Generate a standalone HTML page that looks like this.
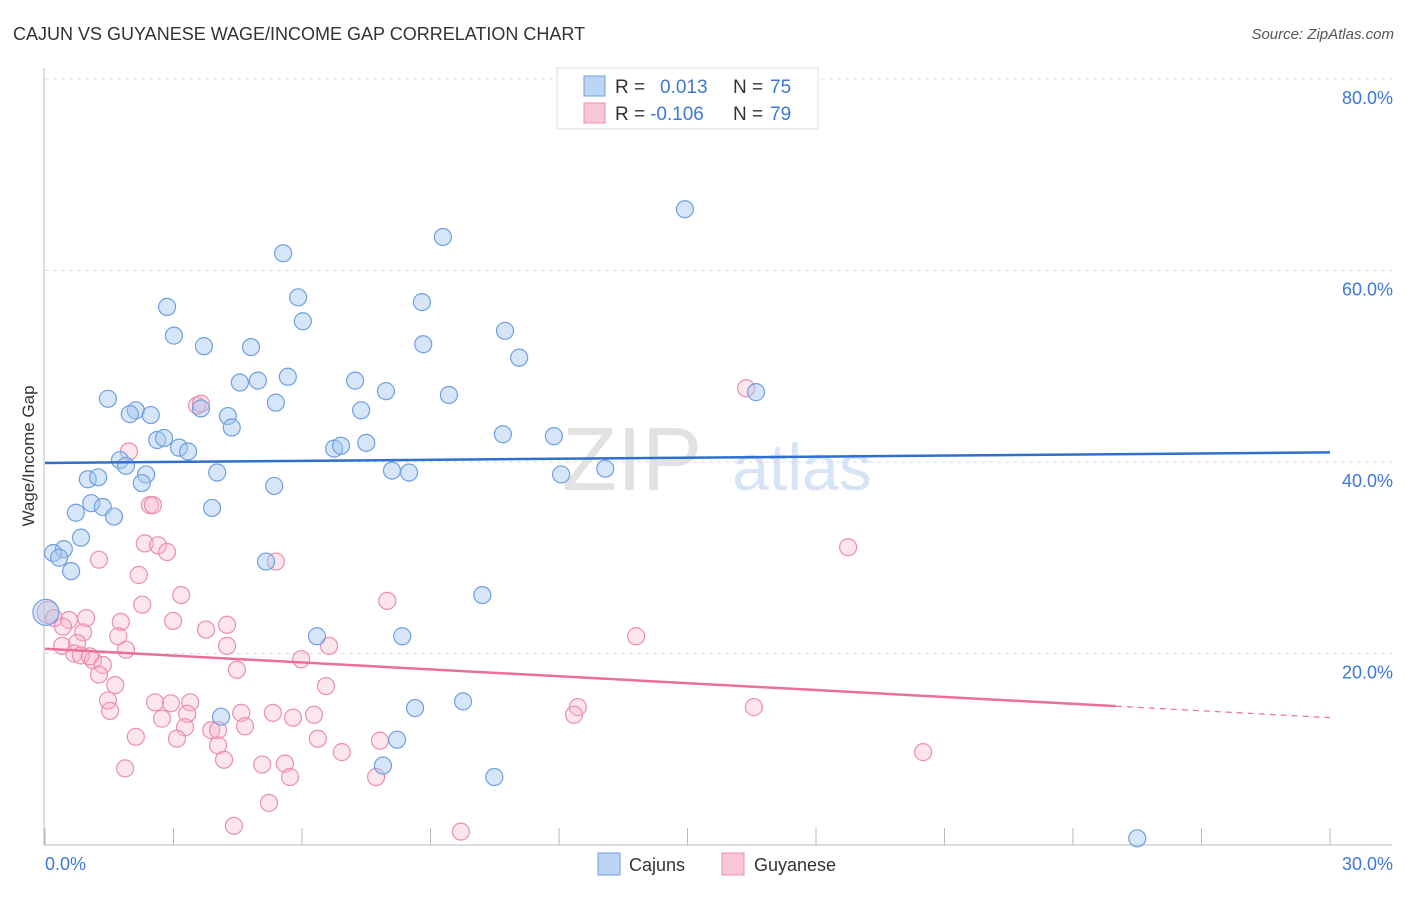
<!DOCTYPE html>
<html><head><meta charset="utf-8"><style>
body{margin:0;background:#fff;font-family:"Liberation Sans",sans-serif;}
svg text{font-family:"Liberation Sans",sans-serif;}
</style></head><body>
<svg id="chart" width="1406" height="892" xmlns="http://www.w3.org/2000/svg">
<text x="13" y="40" font-size="18" fill="#333">CAJUN VS GUYANESE WAGE/INCOME GAP CORRELATION CHART</text>
<text x="1394" y="39" font-size="15" fill="#555" text-anchor="end" font-style="italic">Source: ZipAtlas.com</text>
<g>
<text x="632" y="490" font-size="90" fill="#e2e2e2" text-anchor="middle" font-family="Liberation Serif">ZIP</text>
<text x="802" y="490" font-size="66" fill="#d6e4f5" text-anchor="middle">atlas</text>
</g>
<g id="grid"></g>
<g id="axes"></g>
<g id="marks"></g>
<text transform="translate(34,456) rotate(-90)" font-size="17" fill="#333" text-anchor="middle">Wage/Income Gap</text>
<g>
<rect x="557" y="68" width="261" height="61" fill="#fff" stroke="#ddd"/>
<rect x="584" y="76" width="21" height="20" fill="#bcd5f5" stroke="#6fa0e0"/>
<rect x="584" y="103" width="21" height="20" fill="#f9c6d6" stroke="#e890b0"/>
<text x="615" y="93" font-size="19" fill="#333">R =</text>
<text x="660" y="93" font-size="19" fill="#3c78d8">0.013</text>
<text x="733" y="93" font-size="19" fill="#333">N =</text>
<text x="770" y="93" font-size="19" fill="#3c78d8">75</text>
<text x="615" y="120" font-size="19" fill="#333">R =</text>
<text x="650" y="120" font-size="19" fill="#3c78d8">-0.106</text>
<text x="733" y="120" font-size="19" fill="#333">N =</text>
<text x="770" y="120" font-size="19" fill="#3c78d8">79</text>
</g>
<g>
<rect x="598" y="853" width="22" height="22" fill="#bcd5f5" stroke="#6fa0e0"/>
<text x="629" y="871" font-size="18" fill="#333">Cajuns</text>
<rect x="722" y="853" width="22" height="22" fill="#f9c6d6" stroke="#e890b0"/>
<text x="754" y="871" font-size="18" fill="#333">Guyanese</text>
</g>
</svg>
<script>
const yTicks=[20,40,60,80];
const yTickLabels=["20.0%","40.0%","60.0%","80.0%"];
const xTicks=[0,3,6,9,12,15,18,21,24,27,30];
const cajunX=[17.63,14.94,9.29,5.56,5.91,2.85,6.02,8.80,10.74,3.01,3.71,4.81,8.83,11.07,5.67,4.55,4.97,7.24,7.96,9.43,16.60,1.47,5.39,2.12,1.98,2.47,3.64,7.38,4.27,4.36,2.62,2.78,10.69,11.88,3.13,3.34,6.75,6.91,7.50,1.75,1.89,4.02,8.10,8.50,12.05,13.08,2.36,2.26,1.00,1.24,5.35,1.08,1.35,0.72,3.90,1.61,0.84,0.44,0.19,0.33,0.61,5.16,10.21,0.02,6.35,8.34,9.76,8.64,4.11,8.22,7.89,10.49,25.50];
const cajunY=[79.8,66.4,63.5,61.8,57.2,56.2,54.7,56.7,53.7,53.2,52.1,52.0,52.3,50.9,48.9,48.3,48.5,48.5,47.4,47.0,47.3,46.6,46.2,45.4,45.0,44.9,45.6,45.4,44.8,43.6,42.3,42.5,42.9,42.7,41.5,41.1,41.4,41.7,42.0,40.2,39.6,38.9,39.1,38.9,38.7,39.3,38.7,37.8,38.2,38.4,37.5,35.7,35.3,34.7,35.2,34.3,32.1,30.9,30.5,30.0,28.6,29.6,26.1,24.3,21.8,21.8,15.0,14.3,13.4,11.0,8.3,7.1,0.7];
const guyX=[16.37,3.55,3.64,1.96,2.45,2.52,2.33,2.64,2.85,18.75,1.26,5.39,2.19,3.18,2.27,7.99,0.07,0.21,0.56,0.96,2.99,1.77,4.25,0.42,0.89,3.76,1.71,13.80,4.25,0.40,0.75,1.89,6.63,0.68,0.84,1.12,1.05,1.35,5.98,4.48,1.26,1.64,6.56,1.47,2.57,2.94,3.39,1.52,12.44,12.35,16.55,4.58,5.32,5.79,6.28,3.32,2.73,3.27,3.88,4.04,4.67,2.12,3.08,4.04,6.37,7.82,6.93,20.50,4.18,5.07,5.60,1.87,5.72,7.73,5.23,4.41,9.71];
const guyY=[47.7,45.9,46.1,41.1,35.5,35.5,31.5,31.3,30.6,31.1,29.8,29.6,28.2,26.1,25.1,25.5,24.3,23.7,23.5,23.7,23.4,23.3,23.0,22.8,22.2,22.5,21.8,21.8,20.8,20.8,21.1,20.4,20.8,20.0,19.8,19.3,19.7,18.8,19.4,18.3,17.8,16.7,16.6,15.1,14.9,14.8,14.9,14.0,14.4,13.6,14.4,13.8,13.8,13.3,13.6,13.7,13.2,12.3,12.0,12.0,12.4,11.3,11.1,10.4,11.1,10.9,9.7,9.7,8.9,8.4,8.5,8.0,7.1,7.1,4.4,2.0,1.4];
const cajunTrend=[39.9,41.0];
const guyTrend=[20.5,14.5,13.3];
const NS="http://www.w3.org/2000/svg";
const X=v=>45+v/30*1285, Y=v=>845-v/80*766;
function mk(t,a,p){const e=document.createElementNS(NS,t);for(const k in a)e.setAttribute(k,a[k]);p.appendChild(e);return e;}
const grid=document.getElementById('grid'),axes=document.getElementById('axes'),marks=document.getElementById('marks');
yTicks.forEach((v,i)=>{
 const l=mk('line',{x1:45,x2:1392,y1:Y(v),y2:Y(v),stroke:'#ddd','stroke-dasharray':'4,4'},grid);
 
 
 const t=mk('text',{x:1393,y:Y(v)+25,'font-size':18,fill:'#3c78d8','text-anchor':'end'},axes);
 t.textContent=yTickLabels[i];
 
 
});
mk('line',{x1:45,x2:1392,y1:Y(80)-0,y2:Y(80),stroke:'#ddd','stroke-dasharray':'4,4'},grid);
const ya=mk('line',{x1:44,x2:44,y1:68,y2:845,stroke:'#bbb'},axes);


const xa=mk('line',{x1:44,x2:1392,y1:845,y2:845,stroke:'#bbb'},axes);


xTicks.forEach(v=>{
 const t=mk('line',{x1:X(v),x2:X(v),y1:828,y2:845,stroke:'#bbb'},axes);
 
 
});
const xl0=mk('text',{x:45,y:870,'font-size':18,fill:'#3c78d8'},axes);xl0.textContent='0.0%';


const xl1=mk('text',{x:1393,y:870,'font-size':18,fill:'#3c78d8','text-anchor':'end'},axes);xl1.textContent='30.0%';


guyX.forEach((v,i)=>{
 const c=mk('circle',{cx:X(v),cy:Y(guyY[i]),r:i==16?11:8.5,fill:'rgba(248,180,200,0.35)',stroke:'#ea8fb0','stroke-width':1.2},marks);
 
 
});
cajunX.forEach((v,i)=>{
 const c=mk('circle',{cx:X(v),cy:Y(cajunY[i]),r:i==63?13:8.5,fill:'rgba(164,200,240,0.45)',stroke:'#6fa0e0','stroke-width':1.2},marks);
 
 
});
const bt=mk('line',{x1:X(0),x2:X(30),y1:Y(cajunTrend[0]),y2:Y(cajunTrend[1]),stroke:'#2f6fd0','stroke-width':2.5},marks);


const pt=mk('line',{x1:X(0),x2:X(25),y1:Y(guyTrend[0]),y2:Y(guyTrend[1]),stroke:'#e8709a','stroke-width':2.5},marks);


const pd=mk('line',{x1:X(25),x2:X(30),y1:Y(guyTrend[1]),y2:Y(guyTrend[2]),stroke:'#e8709a','stroke-width':1.2,'stroke-dasharray':'6,5'},marks);


</script>
</body></html>
